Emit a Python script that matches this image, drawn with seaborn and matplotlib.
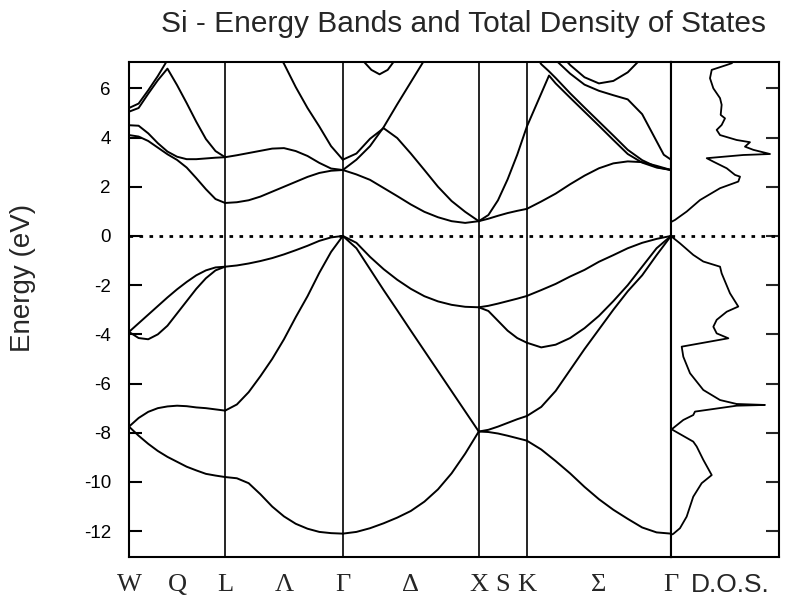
import numpy as np
import pandas as pd
import seaborn as sns
import matplotlib.pyplot as plt
import matplotlib.transforms as mtransforms

# path W - L - Gamma - X - K - Gamma, segment lengths in units of 2pi/a
seg_names = ['WL', 'LG', 'GX', 'XK', 'KG']
seg_len = [np.sqrt(2) / 2, np.sqrt(3) / 2, 1.0, np.sqrt(2) / 4, 3 * np.sqrt(2) / 4]
node_labels = ['W', 'L', 'Γ', 'X', 'K', 'Γ']
mid_labels = ['Q', 'Λ', 'Δ', 'S', 'Σ']

t11 = [0, .1, .2, .3, .4, .5, .6, .7, .8, .9, 1.0]
t6 = [0, .2, .4, .6, .8, 1.0]

# energies (eV), one list per band in each segment
wl_bands = {
    'v1': [-7.75, -8.12, -8.45, -8.74, -8.98, -9.18, -9.38, -9.53, -9.67, -9.74, -9.8],
    'v2': [-7.75, -7.4, -7.15, -7.0, -6.93, -6.9, -6.92, -6.97, -7.0, -7.05, -7.1],
    'v3': [-3.9, -4.15, -4.2, -4.0, -3.65, -3.15, -2.65, -2.15, -1.72, -1.4, -1.25],
    'v4': [-3.9, -3.55, -3.2, -2.85, -2.5, -2.17, -1.87, -1.6, -1.4, -1.28, -1.25],
    'c5': [4.1, 4.04, 3.86, 3.59, 3.32, 3.09, 2.78, 2.35, 1.9, 1.5, 1.34],
    'c6': [4.5, 4.48, 4.17, 3.77, 3.43, 3.22, 3.12, 3.12, 3.15, 3.18, 3.2],
    'c7': [5.05, 5.2, 5.78, 6.33, 6.8, 6.13, 5.4, 4.64, 3.94, 3.45, 3.2],
}
wl_c8_t = [0, .1, .2, .3, .4]
wl_c8 = [5.2, 5.38, 5.92, 6.5, 7.15]

lg_bands = {
    'v1': [-9.8, -9.85, -10.05, -10.5, -11.0, -11.4, -11.7, -11.9, -12.03, -12.08, -12.1],
    'v2': [-7.1, -6.85, -6.35, -5.7, -5.0, -4.2, -3.3, -2.45, -1.5, -0.65, 0],
    'v34': [-1.25, -1.2, -1.12, -1.02, -0.9, -0.75, -0.58, -0.4, -0.2, -0.06, 0],
    'c5': [1.34, 1.37, 1.45, 1.6, 1.8, 2.0, 2.2, 2.4, 2.56, 2.65, 2.68],
    'c67': [3.2, 3.28, 3.37, 3.46, 3.55, 3.57, 3.45, 3.25, 2.97, 2.74, 2.68],
}
lg_c8_t = [.4, .5, .6, .7, .8, .9, 1.0]
lg_c8 = [7.8, 7.0, 6.05, 5.2, 4.45, 3.65, 3.1]

gx_bands = {
    'v1': [-12.1, -12.03, -11.88, -11.68, -11.45, -11.18, -10.8, -10.3, -9.65, -8.85, -7.95],
    'v2': [0, -0.5, -1.35, -2.2, -3.02, -3.85, -4.67, -5.49, -6.31, -7.13, -7.95],
    'v34': [0, -0.28, -0.85, -1.35, -1.78, -2.15, -2.45, -2.66, -2.8, -2.88, -2.9],
    'c5': [2.68, 2.5, 2.28, 1.95, 1.62, 1.28, 0.98, 0.76, 0.6, 0.53, 0.6],
    'c6': [3.1, 3.35, 3.95, 4.38, 3.98, 3.35, 2.68, 2.0, 1.42, 0.98, 0.6],
}
gx_d5_t = [0, .1, .2, .3, .4, .5, .6]
gx_d5 = [2.68, 3.1, 3.65, 4.42, 5.35, 6.25, 7.15]
gx_c9_t = [.12, .16, .21, .27, .33, .37, .41]
gx_c9 = [7.5, 7.05, 6.75, 6.57, 6.75, 7.05, 7.45]

xk_bands = {
    'v1': [-7.95, -7.97, -8.03, -8.12, -8.22, -8.32],
    'v2': [-7.95, -7.88, -7.75, -7.6, -7.45, -7.32],
    'v3': [-2.9, -3.05, -3.45, -3.85, -4.15, -4.34],
    'v4': [-2.9, -2.84, -2.75, -2.65, -2.55, -2.44],
    'c5': [0.6, 0.7, 0.82, 0.93, 1.02, 1.1],
    'c6': [0.6, 0.85, 1.45, 2.3, 3.3, 4.44],
}

kg_bands = {
    'v1': [-8.32, -8.68, -9.15, -9.65, -10.2, -10.7, -11.13, -11.5, -11.85, -12.05, -12.1],
    'v2': [-7.32, -6.95, -6.3, -5.45, -4.6, -3.8, -3.0, -2.25, -1.6, -0.78, 0],
    'v3': [-4.34, -4.53, -4.42, -4.15, -3.75, -3.25, -2.65, -2.0, -1.25, -0.5, 0],
    'v4': [-2.44, -2.2, -1.95, -1.65, -1.38, -1.05, -0.78, -0.5, -0.28, -0.12, 0],
    'c5': [1.1, 1.4, 1.72, 2.1, 2.45, 2.75, 2.95, 3.03, 3.0, 2.85, 2.68],
}
kg_c6_t = [0, .1, .154, .2, .3, .4, .5, .6, .7, .8, .9, 1.0]
kg_c6 = [4.44, 5.79, 6.52, 6.2, 5.62, 5.05, 4.48, 3.9, 3.33, 2.98, 2.78, 2.68]
kg_c7_t = [.06, .1, .154, .2, .3, .4, .5, .6, .7, .8, .9, 1.0]
kg_c7 = [7.35, 6.98, 6.69, 6.42, 5.8, 5.22, 4.65, 4.08, 3.5, 3.08, 2.8, 2.68]
kg_c8_t = [.2, .3, .4, .5, .6, .7, .8, .9, .95, 1.0]
kg_c8 = [7.15, 6.6, 6.15, 5.9, 5.72, 5.55, 4.95, 3.85, 3.3, 3.1]
kg_c9_t = [.2, .3, .4, .5, .6, .7, .8]
kg_c9 = [7.6, 6.95, 6.45, 6.2, 6.3, 6.65, 7.25]

# total density of states (arbitrary units, 0-10) against energy
dos_e = [7.1, 7.02, 6.95, 6.75, 6.41, 6.0, 5.6, 5.33, 4.92, 4.78, 4.51, 4.31, 4.1,
         3.9, 3.81, 3.63, 3.5, 3.33, 3.29, 3.16, 3.02, 2.75, 2.48, 2.41, 2.21, 1.94,
         1.46, 0.99, 0.65, 0.58, 0.55, 0.0, -0.03, -0.3, -0.77, -1.04, -1.25, -1.52,
         -2.33, -2.87, -3.08, -3.41, -3.69, -3.96, -4.16, -4.5, -4.91, -5.58, -6.26,
         -6.67, -6.83, -6.87, -6.9, -7.14, -7.28, -7.48, -7.86, -8.36, -8.56, -9.1,
         -9.72, -10.05, -10.6, -11.41, -11.88, -12.11, -12.15, -13.1]
dos_d = [5.8, 5.62, 5.16, 3.77, 3.61, 3.92, 4.54, 4.69, 4.6, 5.0, 4.69, 4.23, 4.54,
         6.08, 7.31, 6.85, 7.62, 9.17, 6.69, 3.31, 3.92, 5.16, 5.93, 6.39, 6.23, 4.54,
         2.69, 1.45, 0.37, 0.06, 0.0, 0.0, 0.06, 0.83, 2.06, 2.99, 4.54, 4.69,
         5.46, 6.23, 5.16, 4.23, 3.92, 4.23, 5.31, 0.99, 1.14, 1.76, 2.99,
         4.54, 6.08, 8.7, 6.08, 2.22, 2.06, 1.14, 0.06, 2.06, 2.38, 2.99,
         3.77, 2.84, 2.06, 1.45, 0.83, 0.21, 0.0, 0.0]

k_nodes = np.concatenate([[0], np.cumsum(seg_len)])

rows = []


def add(seg, name, t, e):
    i = seg_names.index(seg)
    for ti, ei in zip(t, e):
        rows.append((seg + name, k_nodes[i] + ti * seg_len[i], ei))


for seg, bands, t in [('WL', wl_bands, t11), ('LG', lg_bands, t11), ('GX', gx_bands, t11),
                      ('XK', xk_bands, t6), ('KG', kg_bands, t11)]:
    for name, e in bands.items():
        add(seg, name, t, e)
add('WL', 'c8', wl_c8_t, wl_c8)
add('LG', 'c8', lg_c8_t, lg_c8)
add('GX', 'd5', gx_d5_t, gx_d5)
add('GX', 'c9', gx_c9_t, gx_c9)
add('KG', 'c6', kg_c6_t, kg_c6)
add('KG', 'c7', kg_c7_t, kg_c7)
add('KG', 'c8', kg_c8_t, kg_c8)
add('KG', 'c9', kg_c9_t, kg_c9)
df = pd.DataFrame(rows, columns=['curve', 'k', 'E'])

sns.set_style('ticks')
plt.rcParams['font.family'] = ['Liberation Sans', 'DejaVu Sans']
plt.rcParams['axes.linewidth'] = 1.5
plt.rcParams['axes.edgecolor'] = 'black'
plt.rcParams['axes.unicode_minus'] = False

fig = plt.figure(figsize=(7.86, 5.98), dpi=100)
ax = fig.add_axes([129 / 786, 41 / 598, 542 / 786, 495 / 598])
ax2 = fig.add_axes([671 / 786, 41 / 598, 108 / 786, 495 / 598])

sns.lineplot(data=df, x='k', y='E', units='curve', estimator=None, sort=False,
             color='black', linewidth=1.4, ax=ax, legend=False)
for k in k_nodes[1:-1]:
    ax.axvline(k, color='black', lw=1.2)
ax.axhline(0, color='black', lw=2, linestyle=(0, (1.3, 2.3)))

ylo, yhi = -13.05, 7.07
ax.set_xlim(0, k_nodes[-1])
ax.set_ylim(ylo, yhi)
ax.set_yticks(range(-12, 7, 2))
ax.set_xticks([])
ax.set_xlabel('')
ax.set_ylabel('')
ax.tick_params(axis='y', direction='in', length=9.5, width=1.5, labelsize=13.5, pad=13,
               colors='black')

trans = mtransforms.blended_transform_factory(ax.transData, ax.transAxes)
for k, lab in zip(k_nodes, node_labels):
    ax.text(k, -0.057, lab, transform=trans, ha='center', va='center',
            fontsize=19, family='Liberation Serif')
for i, lab in enumerate(mid_labels):
    ax.text(k_nodes[i] + seg_len[i] / 2, -0.057, lab, transform=trans, ha='center',
            va='center', fontsize=19, family='Liberation Serif')

sns.lineplot(x=dos_d, y=dos_e, sort=False, estimator=None, color='black',
             linewidth=1.3, ax=ax2)
ax2.axhline(0, color='black', lw=2, linestyle=(0, (1.3, 2.3)))
ax2.set_xlim(0, 10)
ax2.set_ylim(ylo, yhi)
ax2.set_xticks([])
ax2.set_yticks(range(-12, 7, 2))
ax2.tick_params(axis='y', left=False, right=True, labelleft=False, direction='in',
                length=9.5, width=1.5)
ax2.text(0.55, -0.057, 'D.O.S.', transform=ax2.transAxes, ha='center', va='center',
         fontsize=19)

fig.text(464 / 786, 1 - 32 / 598, 'Si - Energy Bands and Total Density of States',
         ha='center', va='baseline', fontsize=21.5)
fig.text(23 / 786, 1 - 278 / 598, 'Energy (eV)', rotation=90, ha='center', va='center',
         fontsize=20)

fig.savefig('out.png', dpi=100)
